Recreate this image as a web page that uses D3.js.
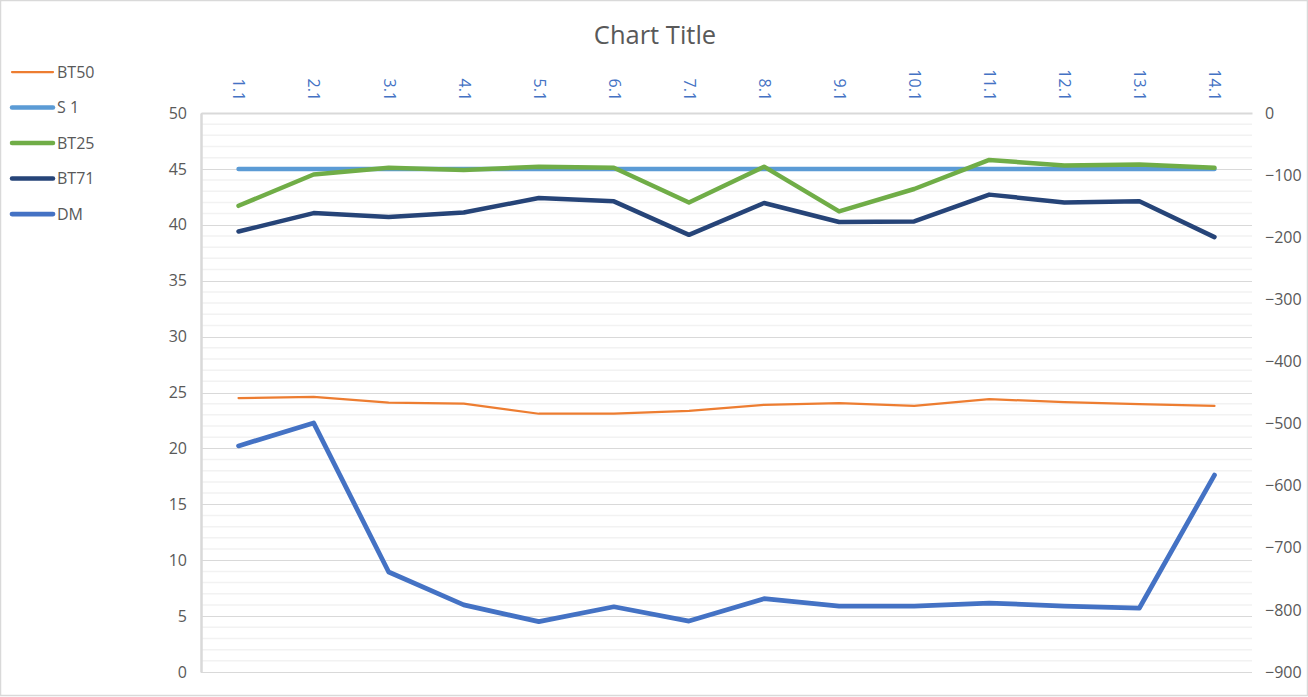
<!DOCTYPE html>
<html><head><meta charset="utf-8">
<script src="https://cdn.jsdelivr.net/npm/d3@7"></script>
<style>body{margin:0;background:#fff;}svg{display:block;font-family:"Open Sans","Segoe UI",sans-serif;}</style>
</head><body>
<svg id="c" width="1308" height="697"></svg>
<script>
const categories = ["1.1","2.1","3.1","4.1","5.1","6.1","7.1","8.1","9.1","10.1","11.1","12.1","13.1","14.1"];
const bt50 = [24.5,24.6,24.1,24.0,23.1,23.1,23.35,23.9,24.05,23.8,24.4,24.15,23.97,23.8];
const s1   = [45,45,45,45,45,45,45,45,45,45,45,45,45,45];
const bt25 = [41.7,44.5,45.1,44.9,45.2,45.1,42.0,45.2,41.2,43.2,45.8,45.3,45.4,45.1];
const bt71 = [39.4,41.05,40.7,41.1,42.4,42.1,39.1,41.95,40.25,40.3,42.7,42.0,42.1,38.9];
const dm   = [-536,-499,-739,-792,-819,-795,-818,-782,-794,-794,-789,-794,-797,-583];
const leftTicks = [0,5,10,15,20,25,30,35,40,45,50];
const rightTicks = [0,-100,-200,-300,-400,-500,-600,-700,-800,-900];

const series = [
  {name:"BT50", values:bt50, axis:"left", color:"#ed7d31", width:2.25},
  {name:"S 1", values:s1, axis:"left", color:"#5b9bd5", width:4.5},
  {name:"BT25", values:bt25, axis:"left", color:"#70ad47", width:4.5},
  {name:"BT71", values:bt71, axis:"left", color:"#264478", width:4.5},
  {name:"DM", values:dm, axis:"right", color:"#4472c4", width:4.75}
];

const svg = d3.select("#c");
const W=1308,H=697;
const L=201,R=1252,T=113,B=672;
svg.append("rect").attr("x",0.5).attr("y",0.5).attr("width",W-1).attr("height",H-2)
  .attr("fill","#fff").attr("stroke","#d9d9d9").attr("stroke-width",1.5);

const x = d3.scalePoint().domain(categories).range([L,R]).padding(0.5);
const yL = d3.scaleLinear().domain([0,50]).range([B,T]);
const yR = d3.scaleLinear().domain([-900,0]).range([B,T]);

// minor gridlines
const minor = d3.range(0,51,1).filter(v=>v%5!==0);
svg.append("g").selectAll("line").data(minor).join("line")
  .attr("x1",L).attr("x2",R).attr("y1",d=>yL(d)).attr("y2",d=>yL(d))
  .attr("stroke","#f2f2f2").attr("stroke-width",1.5);
// major gridlines
svg.append("g").selectAll("line").data(leftTicks).join("line")
  .attr("x1",L).attr("x2",R).attr("y1",d=>Math.round(yL(d))+0.5).attr("y2",d=>Math.round(yL(d))+0.5)
  .attr("stroke","#d9d9d9").attr("stroke-width",1);

// left axis
const gl = svg.append("g").attr("transform",`translate(${L},0)`)
  .call(d3.axisLeft(yL).tickValues(leftTicks).tickSize(0).tickPadding(14));
gl.select(".domain").attr("stroke","#d9d9d9").attr("stroke-width",2.5);
gl.selectAll("text").attr("fill","#595959").style("font-size","16px").style("font-family","'Open Sans',sans-serif");

// right axis
const gr = svg.append("g").attr("transform",`translate(${R},0)`)
  .call(d3.axisRight(yR).tickValues(rightTicks).tickSize(0).tickPadding(13));
gr.select(".domain").remove();
gr.selectAll("text").attr("fill","#595959").style("font-size","16px").style("font-family","'Open Sans',sans-serif");

// top category axis
const gt = svg.append("g").attr("transform",`translate(0,${T})`)
  .call(d3.axisTop(x).tickSize(0).tickPadding(0));
gt.select(".domain").attr("stroke","#d9d9d9").attr("stroke-width",2);
gt.selectAll("text")
  .attr("fill","#4472c4").style("font-size","16px").style("font-family","'Open Sans',sans-serif")
  .attr("text-anchor","end").attr("dy","0.35em")
  .attr("transform","translate(0,-12) rotate(90)")
  .attr("x",0).attr("y",0);

// lines
series.forEach(s=>{
  const ys = s.axis==="left"?yL:yR;
  const line = d3.line().x((d,i)=>x(categories[i])).y(d=>ys(d));
  svg.append("path").datum(s.values).attr("d",line)
    .attr("fill","none").attr("stroke",s.color).attr("stroke-width",s.width)
    .attr("stroke-linejoin","round").attr("stroke-linecap","round");
});

// title
svg.append("text").attr("x",655).attr("y",44).attr("text-anchor","middle")
  .attr("fill","#595959").style("font-size","25.5px").text("Chart Title");

// legend
const lg = svg.append("g").selectAll("g").data(series).join("g")
  .attr("transform",(d,i)=>`translate(0,${72+i*35.5})`);
lg.append("line").attr("x1",12).attr("x2",53).attr("y1",0).attr("y2",0)
  .attr("stroke",d=>d.color).attr("stroke-width",d=>d.width).attr("stroke-linecap","round");
lg.append("text").attr("x",57).attr("y",0).attr("dy","0.35em")
  .attr("fill","#595959").style("font-size","16px").text(d=>d.name);
</script>
</body></html>
